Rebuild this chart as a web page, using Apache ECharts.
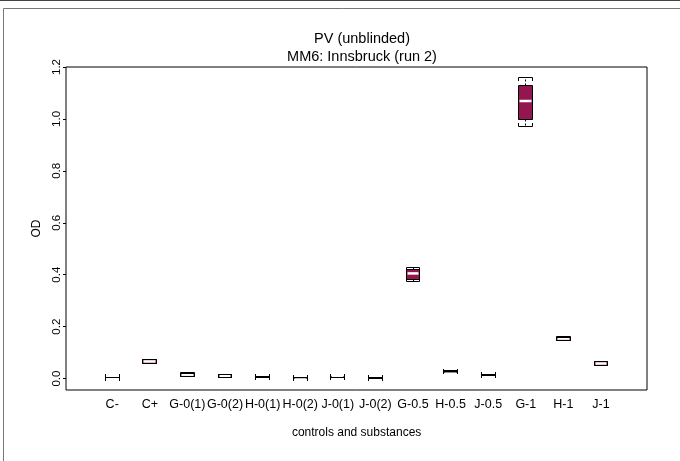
<!DOCTYPE html>
<html>
<head>
<meta charset="utf-8">
<script src="https://cdn.jsdelivr.net/npm/echarts@6/dist/echarts.min.js"></script>
<style>html,body{margin:0;padding:0;background:#fff;}#chart{width:680px;height:461px;}</style>
</head>
<body>
<div id="chart"></div>
<script>
const categories = ['C-','C+','G-0(1)','G-0(2)','H-0(1)','H-0(2)','J-0(1)','J-0(2)','G-0.5','H-0.5','J-0.5','G-1','H-1','J-1'];
const whiskerLow  = [0.003, 0.057, 0.007, 0.003, 0.004, 0.002, 0.003, 0.001, 0.372, 0.025, 0.010, 0.970, 0.145, 0.050];
const lowerQuart  = [0.003, 0.059, 0.009, 0.005, 0.005, 0.003, 0.004, 0.002, 0.382, 0.026, 0.011, 0.998, 0.147, 0.052];
const medians     = [0.003, 0.066, 0.015, 0.010, 0.006, 0.004, 0.005, 0.003, 0.405, 0.028, 0.013, 1.069, 0.154, 0.058];
const upperQuart  = [0.003, 0.072, 0.020, 0.015, 0.007, 0.005, 0.006, 0.004, 0.420, 0.030, 0.014, 1.130, 0.160, 0.065];
const whiskerHigh = [0.003, 0.074, 0.022, 0.017, 0.008, 0.006, 0.007, 0.005, 0.428, 0.031, 0.016, 1.158, 0.163, 0.067];
const yTicks = [0, 0.2, 0.4, 0.6, 0.8, 1.0, 1.2];
const titleLines = ['PV (unblinded)', 'MM6: Innsbruck (run 2)'];
const yName = 'OD';
const xName = 'controls and substances';

const Y_MIN = -0.044, Y_MAX = 1.2;
const FONT = 'Liberation Sans, Arial, Helvetica, sans-serif';
const FILL = '#931650';

const seriesData = categories.map((c, i) => [i, whiskerLow[i], lowerQuart[i], medians[i], upperQuart[i], whiskerHigh[i]]);

function px(v) { return Math.round(v - 0.5) + 0.5; }

function renderItem(params, api) {
  const i = api.value(0);
  const pLo = api.coord([i, api.value(1)]);
  const pQ1 = api.coord([i, api.value(2)]);
  const pMed = api.coord([i, api.value(3)]);
  const pQ3 = api.coord([i, api.value(4)]);
  const pHi = api.coord([i, api.value(5)]);
  const bw = api.size([1, 0])[0] * 0.37;
  const cx = pLo[0];
  const l = px(cx - bw / 2), r = px(cx + bw / 2);
  const yLo = px(pLo[1]), yQ1 = px(pQ1[1]), yMed = pMed[1], yQ3 = px(pQ3[1]), yHi = px(pHi[1]);
  const t = 3.5;
  const c = px(cx);
  const black = { stroke: '#000', lineWidth: 1, fill: null };
  return {
    type: 'group',
    children: [
      { type: 'line', shape: { x1: c, y1: yQ3, x2: c, y2: yHi }, style: { stroke: '#000', lineWidth: 1, lineDash: [2, 2] } },
      { type: 'line', shape: { x1: c, y1: yQ1, x2: c, y2: yLo }, style: { stroke: '#000', lineWidth: 1, lineDash: [2, 2] } },
      { type: 'polyline', shape: { points: [[l, yHi + t], [l, yHi], [r, yHi], [r, yHi + t]] }, style: black },
      { type: 'polyline', shape: { points: [[l, yLo - t], [l, yLo], [r, yLo], [r, yLo - t]] }, style: black },
      { type: 'rect', shape: { x: l, y: yQ3, width: r - l, height: yQ1 - yQ3 }, style: { fill: FILL, stroke: null } },
      { type: 'line', shape: { x1: l + 1, y1: yMed, x2: r - 1, y2: yMed }, style: { stroke: '#fff', lineWidth: 2.5 } },
      { type: 'rect', shape: { x: l, y: yQ3, width: r - l, height: yQ1 - yQ3 }, style: { fill: null, stroke: '#000', lineWidth: 1 } }
    ]
  };
}

const chart = echarts.init(document.getElementById('chart'), null, { renderer: 'canvas' });
chart.setOption({
  animation: false,
  backgroundColor: '#fff',
  textStyle: { fontFamily: FONT, color: '#000' },
  title: {
    text: titleLines.join('\n'),
    left: 357, top: 25, textAlign: 'center',
    textStyle: { fontFamily: FONT, fontSize: 14.5, fontWeight: 'normal', color: '#000', lineHeight: 18 }
  },
  grid: [
    { left: 66, top: 67, width: 581, height: 323, show: true, borderColor: '#000', borderWidth: 1, backgroundColor: 'transparent' },
    { left: 93.4, top: 67, width: 526.4, height: 323, show: false }
  ],
  xAxis: [
    { gridIndex: 0, type: 'value', min: 0, max: 1, show: false },
    {
      gridIndex: 1, type: 'category', data: categories, boundaryGap: true,
      axisLine: { show: false }, axisTick: { show: false }, splitLine: { show: false },
      axisLabel: { interval: 0, fontSize: 12.5, margin: 8, color: '#000', fontFamily: FONT },
      name: xName, nameLocation: 'middle', nameGap: 37,
      nameTextStyle: { fontSize: 12, color: '#000', fontFamily: FONT }
    }
  ],
  yAxis: [
    {
      gridIndex: 0, type: 'value', min: Y_MIN, max: Y_MAX,
      axisLine: { show: false }, splitLine: { show: false },
      axisTick: { show: true, customValues: yTicks, length: 3, lineStyle: { color: '#000' } },
      axisLabel: { customValues: yTicks, rotate: 90, fontSize: 11.5, margin: 3, color: '#000', fontFamily: FONT,
        formatter: v => v.toFixed(1) },
      name: yName, nameLocation: 'middle', nameGap: 20, nameRotate: 90,
      nameTextStyle: { fontSize: 12, color: '#000', fontFamily: FONT }
    },
    { gridIndex: 1, type: 'value', min: Y_MIN, max: Y_MAX, show: false }
  ],
  series: [{
    type: 'custom', xAxisIndex: 1, yAxisIndex: 1,
    renderItem: renderItem,
    data: seriesData,
    encode: { x: 0, y: [1, 2, 3, 4, 5] },
    clip: false, silent: true
  }],
  graphic: [
    { type: 'line', shape: { x1: 0, y1: 0.5, x2: 680, y2: 0.5 }, style: { stroke: '#444', lineWidth: 1 }, silent: true },
    { type: 'rect', shape: { x: 3.5, y: 8.5, width: 700, height: 500 }, style: { fill: null, stroke: '#777', lineWidth: 1 }, silent: true }
  ]
});
</script>
</body>
</html>
